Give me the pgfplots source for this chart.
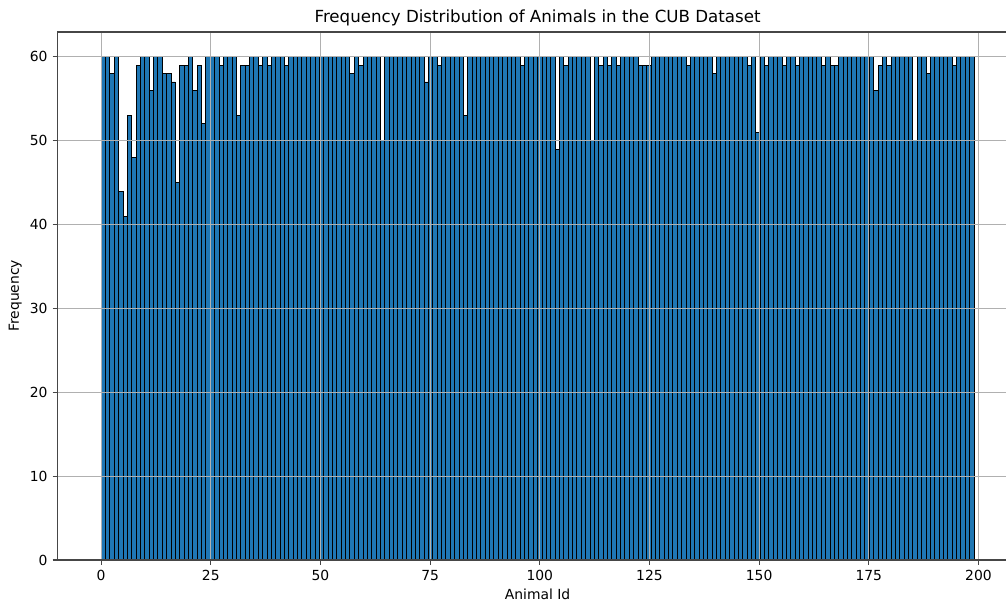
\documentclass[border=0pt]{standalone}
\usepackage{pgfplots}
\pgfplotsset{compat=1.18}
\usepackage{pgfplotstable}
\usepackage{fontspec}
\setmainfont{DejaVu Sans}
\definecolor{barblue}{RGB}{31,119,180}
\definecolor{gridgray}{RGB}{176,176,176}
\definecolor{spine}{RGB}{70,70,70}

\pgfplotstableread{
id count
0 60
1 60
2 58
3 60
4 44
5 41
6 53
7 48
8 59
9 60
10 60
11 56
12 60
13 60
14 58
15 58
16 57
17 45
18 59
19 59
20 60
21 56
22 59
23 52
24 60
25 60
26 60
27 59
28 60
29 60
30 60
31 53
32 59
33 59
34 60
35 60
36 59
37 60
38 59
39 60
40 60
41 60
42 59
43 60
44 60
45 60
46 60
47 60
48 60
49 60
50 60
51 60
52 60
53 60
54 60
55 60
56 60
57 58
58 60
59 59
60 60
61 60
62 60
63 60
64 50
65 60
66 60
67 60
68 60
69 60
70 60
71 60
72 60
73 60
74 57
75 60
76 60
77 59
78 60
79 60
80 60
81 60
82 60
83 53
84 60
85 60
86 60
87 60
88 60
89 60
90 60
91 60
92 60
93 60
94 60
95 60
96 59
97 60
98 60
99 60
100 60
101 60
102 60
103 60
104 49
105 60
106 59
107 60
108 60
109 60
110 60
111 60
112 50
113 60
114 59
115 60
116 59
117 60
118 59
119 60
120 60
121 60
122 60
123 59
124 59
125 59
126 60
127 60
128 60
129 60
130 60
131 60
132 60
133 60
134 59
135 60
136 60
137 60
138 60
139 60
140 58
141 60
142 60
143 60
144 60
145 60
146 60
147 60
148 59
149 60
150 51
151 60
152 59
153 60
154 60
155 60
156 59
157 60
158 60
159 59
160 60
161 60
162 60
163 60
164 60
165 59
166 60
167 59
168 59
169 60
170 60
171 60
172 60
173 60
174 60
175 60
176 60
177 56
178 59
179 60
180 59
181 60
182 60
183 60
184 60
185 60
186 50
187 60
188 60
189 58
190 60
191 60
192 60
193 60
194 60
195 59
196 60
197 60
198 60
199 60
}\datatable

\begin{document}
\begin{tikzpicture}
\useasboundingbox (-41.4pt,-30.2pt) rectangle (682.9pt,403.2pt);
\begin{axis}[
  at={(0pt,0pt)}, anchor=south west,
  scale only axis, width=691.3pt, height=380.4pt,
  xmin=-9.95, xmax=208.95, ymin=0, ymax=63,
  xtick={0,25,...,200}, ytick={0,10,...,60},
  xtick pos=bottom, ytick pos=left,
  tick align=outside, major tick length=3.5pt,
  tick style={spine, line width=0.8pt},
  axis line style={spine, line width=1.4pt},
  grid=major, major grid style={gridgray, line width=0.8pt},
  axis on top, clip=false,
  /pgf/number format/assume math mode=true,
  ticklabel style={font=\fontsize{10}{12}\selectfont},
  xticklabel style={anchor=north, inner sep=0pt, yshift=-3.5pt},
  yticklabel style={anchor=east, inner sep=0pt, xshift=-3.5pt},
  title={Frequency Distribution of Animals in the CUB Dataset},
  title style={at={(axis description cs:0.5,1)}, anchor=base, yshift=0.5pt, inner sep=0pt, font=\fontsize{12}{14}\selectfont},
  xlabel={Animal Id},
  xlabel style={at={(axis description cs:0.5,0)}, anchor=north, yshift=-20.5pt, inner sep=0pt, font=\fontsize{10}{12}\selectfont},
  ylabel={Frequency},
  ylabel style={at={(axis description cs:-0.0401,0.5)}, anchor=base, inner sep=0pt, font=\fontsize{10}{12}\selectfont},
]
\addplot[ybar, bar width=0.995, bar shift=0pt, fill=barblue, draw=black, line width=0.65pt]
  table[x expr=\thisrow{id}*0.995+0.4975, y=count] {\datatable};
\draw[spine, line width=1.4pt] (rel axis cs:0,0) -- (rel axis cs:0,1) -- (rel axis cs:1,1) -- (rel axis cs:1,0) -- cycle;
\end{axis}
\end{tikzpicture}
\end{document}
